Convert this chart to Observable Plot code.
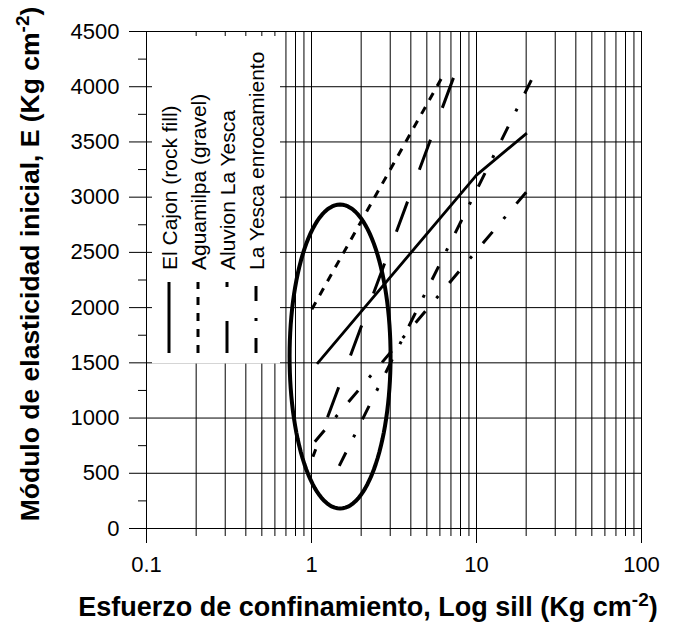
<!DOCTYPE html>
<html>
<head>
<meta charset="utf-8">
<script src="https://cdn.jsdelivr.net/npm/d3@7"></script>
<script src="https://cdn.jsdelivr.net/npm/@observablehq/plot@0.6"></script>
<style>
  body { margin: 0; background: #fff; }
  #chart { width: 673px; height: 624px; }
</style>
</head>
<body>
<div id="chart"></div>
<script>
// ---- tick values ----
const xMajorTicks = [0.1, 1, 10, 100];
const xMinorTicks = [0.2, 0.3, 0.4, 0.5, 0.6, 0.7, 0.8, 0.9,
                     2, 3, 4, 5, 6, 7, 8, 9,
                     20, 30, 40, 50, 60, 70, 80, 90];
const yMajorTicks = [0, 500, 1000, 1500, 2000, 2500, 3000, 3500, 4000, 4500];
const yMinorTicks = [250, 750, 1250, 1750, 2250, 2750, 3250, 3750, 4250];

// ---- series ----
const seriesNames = ["El Cajon (rock fill)", "Aguamilpa (gravel)", "Aluvion La Yesca", "La Yesca enrocamiento"];

const elCajonX = [1.08, 10, 20.2];
const elCajonY = [1490, 3200, 3580];

const aguamilpaX = [6.1, 0.97];
const aguamilpaY = [4070, 1945];

const aluvionX = [7.25, 1.02];
const aluvionY = [4080, 650];

const yescaUpperX = [21.5, 1.46];
const yescaUpperY = [4060, 555];

const yescaLowerX = [20, 1.0];
const yescaLowerY = [3045, 750];

// ---- ellipse annotation (centre, half width in decades, half height) ----
const ellipseCenterX = 1.49;
const ellipseCenterY = 1557;
const ellipseHalfDecades = 0.306;
const ellipseHalfHeight = 1376;

const rows = (xs, ys) => xs.map((x, i) => ({x, y: ys[i]}));

const ellipsePts = d3.range(0, 121).map(i => {
  const t = (i / 120) * 2 * Math.PI;
  return {
    x: Math.pow(10, Math.log10(ellipseCenterX) + ellipseHalfDecades * Math.cos(t)),
    y: ellipseCenterY + ellipseHalfHeight * Math.sin(t)
  };
});

const dashAgua = "8,8";
const dashAluv = "32,34";
const dashYesca = "15,17,3,17";

const plot = Plot.plot({
  width: 673,
  height: 624,
  marginLeft: 146,
  marginRight: 32,
  marginTop: 31,
  marginBottom: 96,
  x: {type: "log", domain: [0.1, 100]},
  y: {domain: [0, 4500]},
  style: {fontFamily: "'Liberation Sans', Arial, sans-serif", color: "#000", background: "#fff"},
  marks: [
    Plot.ruleX(xMajorTicks.concat(xMinorTicks), {stroke: "#000", strokeWidth: 1}),
    Plot.ruleY(yMajorTicks, {stroke: "#000", strokeWidth: 1}),
    Plot.axisX(xMajorTicks, {tickSize: 15, tickPadding: 13, fontSize: 22, label: null,
      tickFormat: d => String(d), stroke: "#000"}),
    Plot.axisX(xMinorTicks, {tickSize: 8, fill: "none", label: null, stroke: "#000"}),
    Plot.axisY(yMajorTicks, {tickSize: 17, tickPadding: 10, fontSize: 22, label: null,
      tickFormat: d => String(d), stroke: "#000"}),
    Plot.axisY(yMinorTicks, {tickSize: 8, fill: "none", label: null, stroke: "#000"}),

    Plot.line(rows(elCajonX, elCajonY), {x: "x", y: "y", stroke: "#000", strokeWidth: 2.8,
      strokeLinecap: "butt"}),
    Plot.line(rows(aguamilpaX, aguamilpaY), {x: "x", y: "y", stroke: "#000", strokeWidth: 3,
      strokeDasharray: dashAgua, strokeLinecap: "butt"}),
    Plot.line(rows(aluvionX, aluvionY), {x: "x", y: "y", stroke: "#000", strokeWidth: 3,
      strokeDasharray: dashAluv, strokeLinecap: "butt"}),
    Plot.line(rows(yescaUpperX, yescaUpperY), {x: "x", y: "y", stroke: "#000", strokeWidth: 3,
      strokeDasharray: dashYesca, strokeLinecap: "butt"}),
    Plot.line(rows(yescaLowerX, yescaLowerY), {x: "x", y: "y", stroke: "#000", strokeWidth: 3,
      strokeDasharray: dashYesca, strokeLinecap: "butt"}),

    Plot.line(ellipsePts, {x: "x", y: "y", stroke: "#000", strokeWidth: 4})
  ]
});

document.getElementById("chart").appendChild(plot);

// ---- in-plot legend (white box with vertical samples and rotated labels) ----
const svg = d3.select(plot);
const lg = svg.append("g");
lg.append("rect").attr("x", 152).attr("y", 36).attr("width", 128).attr("height", 327.5)
  .attr("fill", "#fff");
const legendCols = [169, 198, 227, 256];
const legendDash = [null, dashAgua, dashAluv, dashYesca];
seriesNames.forEach((name, i) => {
  const x = legendCols[i];
  const ln = lg.append("line")
    .attr("x1", x).attr("x2", x).attr("y1", 353).attr("y2", 282)
    .attr("stroke", "#000").attr("stroke-width", 3).attr("stroke-linecap", "butt");
  if (legendDash[i]) ln.attr("stroke-dasharray", legendDash[i]);
  lg.append("text")
    .attr("transform", `translate(${x + 1},270) rotate(-90)`)
    .attr("dy", "0.35em")
    .attr("text-anchor", "start")
    .attr("font-size", 21)
    .attr("font-family", "'Liberation Sans', Arial, sans-serif")
    .attr("fill", "#000")
    .text(name);
});

// ---- axis titles with superscripts ----
const xt = svg.append("text")
  .attr("x", 368).attr("y", 616)
  .attr("text-anchor", "middle")
  .attr("font-size", 27).attr("font-weight", "bold")
  .attr("font-family", "'Liberation Sans', Arial, sans-serif")
  .attr("fill", "#000");
xt.append("tspan").text("Esfuerzo de confinamiento, Log sill (Kg cm");
xt.append("tspan").attr("dy", -10).attr("font-size", 19).text("-2");
xt.append("tspan").attr("dy", 10).text(")");

const yt = svg.append("text")
  .attr("transform", "translate(30,264) rotate(-90)")
  .attr("text-anchor", "middle")
  .attr("font-size", 26.5).attr("font-weight", "bold")
  .attr("font-family", "'Liberation Sans', Arial, sans-serif")
  .attr("fill", "#000");
yt.append("tspan").attr("dy", "0.35em").text("Módulo de elasticidad inicial, E (Kg cm");
yt.append("tspan").attr("dy", -10).attr("font-size", 19).text("-2");
yt.append("tspan").attr("dy", 10).text(")");
</script>
</body>
</html>
